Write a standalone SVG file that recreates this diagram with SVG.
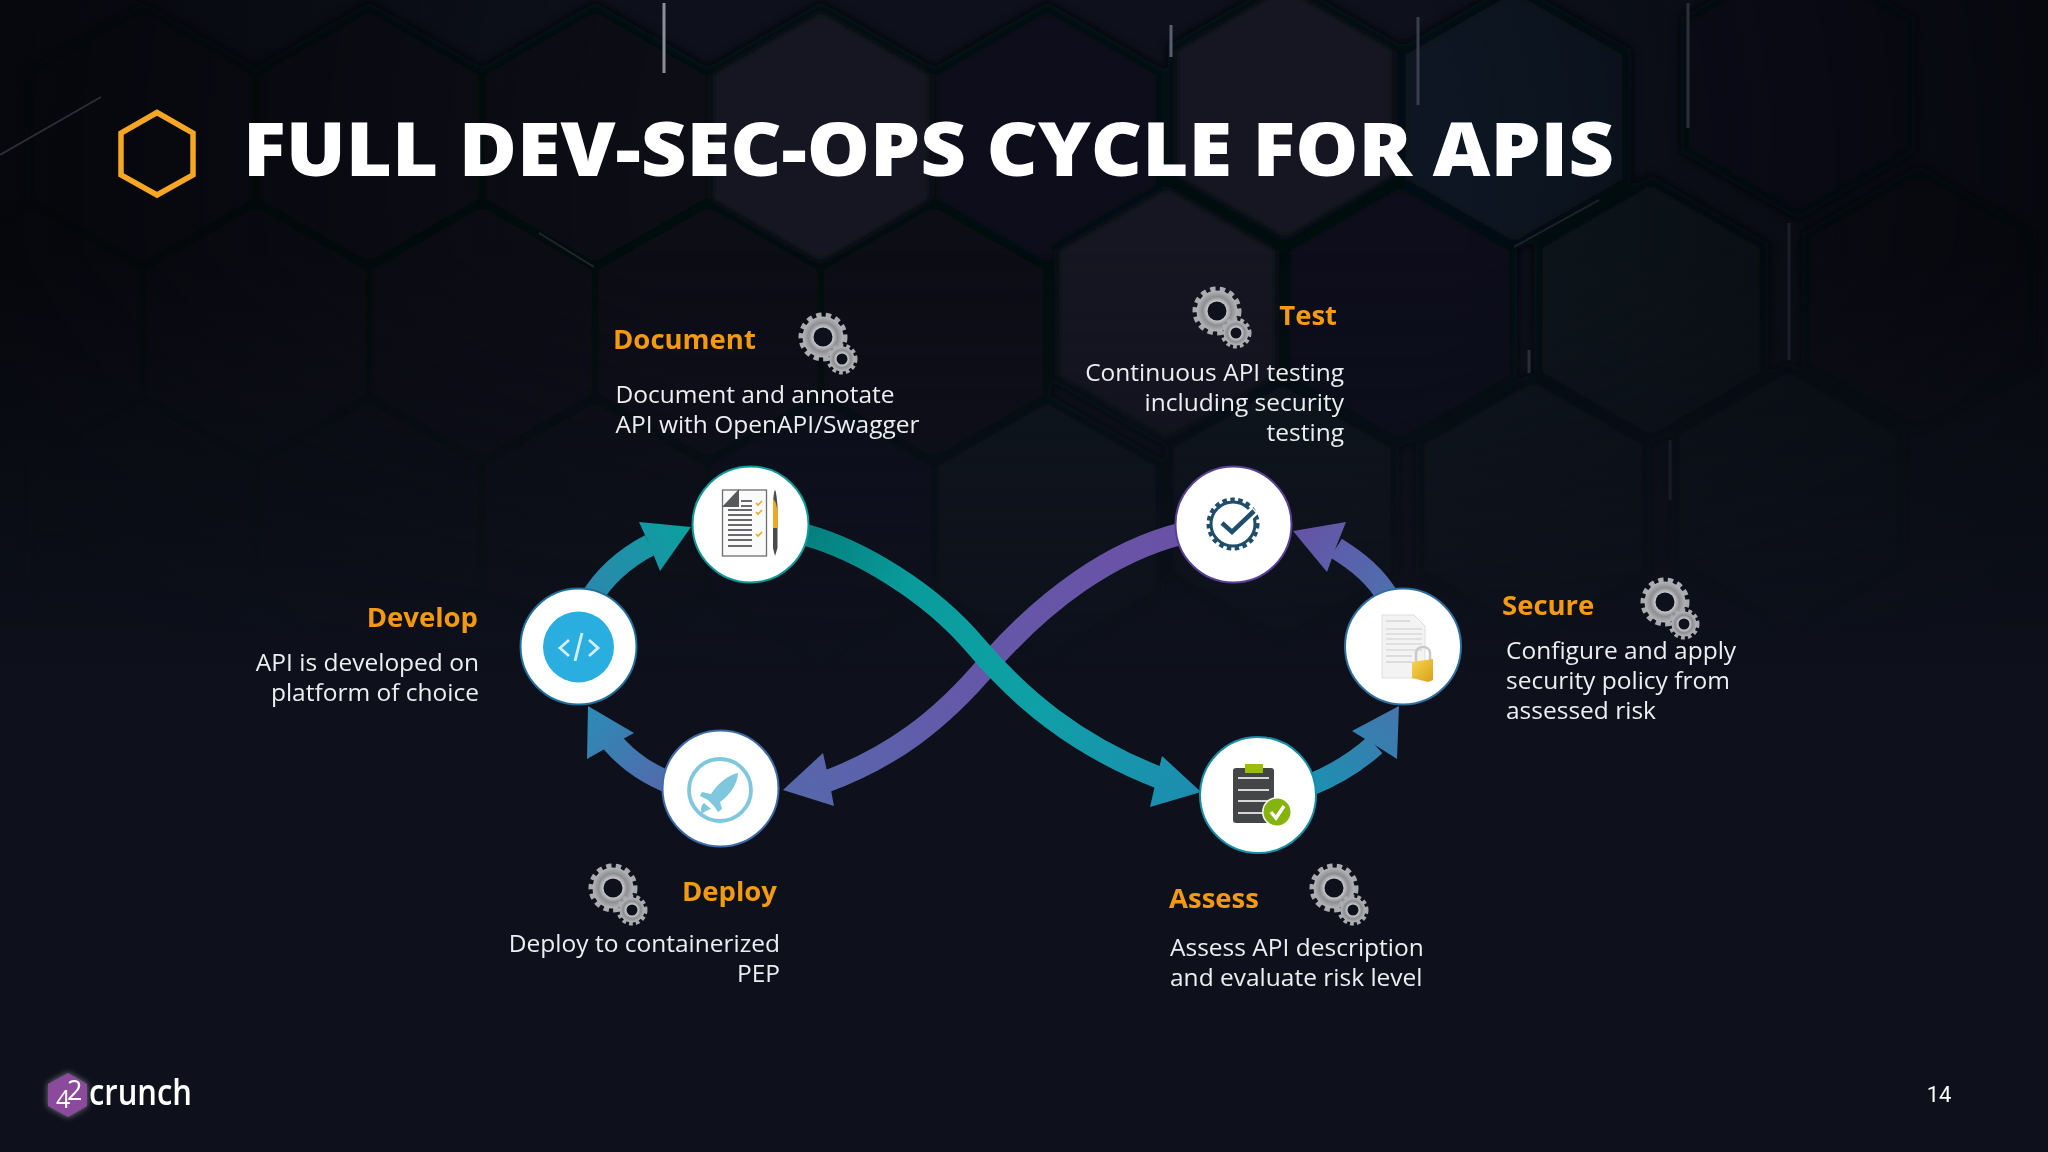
<svg xmlns="http://www.w3.org/2000/svg" xmlns:xlink="http://www.w3.org/1999/xlink" width="2048" height="1152" viewBox="0 0 2048 1152">
<style>
text{font-family:"Open Sans","Noto Sans","Liberation Sans",sans-serif}
.h{font-size:27.5px;font-weight:700;fill:#f39a12}
.b{font-size:24.5px;fill:#eceef0}
.e{text-anchor:end}
.disc{fill:#fff;stroke-width:2}
.hx{stroke:#06070c;stroke-width:9}
.lt{stroke-width:3;fill:none}
.sh{fill:none;stroke-width:22}
</style>
<defs>
<polygon id="hex" points="0,-130 113,-65 113,65 0,130 -113,65 -113,-65"/>
<filter id="soft" x="-5%" y="-5%" width="110%" height="110%"><feGaussianBlur stdDeviation="5"/></filter>
<filter id="glow" x="-30%" y="-30%" width="160%" height="160%"><feGaussianBlur stdDeviation="3"/></filter>
<radialGradient id="edge" gradientUnits="userSpaceOnUse" cx="1050" cy="180" r="1050"><stop offset="0.4" stop-color="#05060a" stop-opacity="0"/><stop offset="1" stop-color="#05060a" stop-opacity="0.8"/></radialGradient>
<linearGradient id="fade" x1="0" y1="0" x2="0" y2="1"><stop offset="0.22" stop-color="#0e111c" stop-opacity="0"/><stop offset="0.6" stop-color="#0e111c"/></linearGradient>
<radialGradient id="gm"><stop offset="0.35" stop-color="#e6e7e9"/><stop offset="0.7" stop-color="#8c8e92"/><stop offset="1" stop-color="#b4b6b9"/></radialGradient>
<linearGradient id="gTeal" gradientUnits="userSpaceOnUse" x1="806" y1="535" x2="1200" y2="792"><stop offset="0" stop-color="#047f7e"/><stop offset="0.25" stop-color="#0a9c9c"/><stop offset="0.6" stop-color="#0fa0a6"/><stop offset="1" stop-color="#1d8db0"/></linearGradient>
<linearGradient id="gPurple" gradientUnits="userSpaceOnUse" x1="1180" y1="534" x2="783" y2="790"><stop offset="0" stop-color="#6a52a6"/><stop offset="0.55" stop-color="#6458a8"/><stop offset="1" stop-color="#5668ac"/></linearGradient>
<linearGradient id="gDev" gradientUnits="userSpaceOnUse" x1="590" y1="600" x2="691" y2="527"><stop offset="0" stop-color="#2d87ad"/><stop offset="1" stop-color="#0aa09f"/></linearGradient>
<linearGradient id="gDep" gradientUnits="userSpaceOnUse" x1="675" y1="785" x2="588" y2="706"><stop offset="0" stop-color="#5468ab"/><stop offset="1" stop-color="#2b8cb6"/></linearGradient>
<linearGradient id="gAss" gradientUnits="userSpaceOnUse" x1="1310" y1="785" x2="1399" y2="706"><stop offset="0" stop-color="#1b91b1"/><stop offset="1" stop-color="#4575ad"/></linearGradient>
<linearGradient id="gSec" gradientUnits="userSpaceOnUse" x1="1390" y1="600" x2="1293" y2="531"><stop offset="0" stop-color="#4d70ae"/><stop offset="1" stop-color="#6752a6"/></linearGradient>
<linearGradient id="gLock" x1="0" y1="0" x2="1" y2="1"><stop offset="0" stop-color="#f7d64a"/><stop offset="1" stop-color="#d99f1c"/></linearGradient>
<g id="gear">
<circle r="21.5" fill="none" stroke="#a9abae" stroke-width="6" stroke-dasharray="5.2 4.2"/>
<circle r="20.5" fill="url(#gm)"/>
<circle r="9.5" fill="#0e111c"/>
<g transform="translate(19,22)">
<circle r="13" fill="none" stroke="#a9abae" stroke-width="5" stroke-dasharray="3.6 2.9"/>
<circle r="12.5" fill="url(#gm)"/>
<circle r="5.5" fill="#0e111c"/>
</g>
</g>
</defs>

<g id="background">
<rect width="2048" height="1152" fill="#0e111c"/>
<g filter="url(#soft)">
<use href="#hex" x="143" y="137" class="hx" fill="#0b0d14"/>
<use href="#hex" x="369" y="137" class="hx" fill="#0b0d15"/>
<use href="#hex" x="595" y="137" class="hx" fill="#0c0e16"/>
<use href="#hex" x="821" y="137" class="hx" fill="#141723"/>
<use href="#hex" x="1047" y="137" class="hx" fill="#0e111a"/>
<use href="#hex" x="1285" y="113" class="hx" fill="#121622"/>
<use href="#hex" x="1514" y="117" class="hx" fill="#111420"/>
<use href="#hex" x="1798" y="85" class="hx" fill="#0e111b"/>
<use href="#hex" x="30" y="332" class="hx" fill="#0b0d14"/>
<use href="#hex" x="256" y="332" class="hx" fill="#0c0e16"/>
<use href="#hex" x="482" y="332" class="hx" fill="#0b0d15"/>
<use href="#hex" x="708" y="332" class="hx" fill="#0c0e16"/>
<use href="#hex" x="934" y="332" class="hx" fill="#0d0f18"/>
<use href="#hex" x="1167" y="313" class="hx" fill="#121622"/>
<use href="#hex" x="1400" y="313" class="hx" fill="#0e111a"/>
<use href="#hex" x="1651" y="310" class="hx" fill="#10131d"/>
<use href="#hex" x="1919" y="300" class="hx" fill="#0d1019"/>
<use href="#hex" x="143" y="528" class="hx" fill="#0c0e17"/>
<use href="#hex" x="369" y="528" class="hx" fill="#0d0f18"/>
<use href="#hex" x="595" y="528" class="hx" fill="#0c0e17"/>
<use href="#hex" x="821" y="528" class="hx" fill="#0e101a"/>
<use href="#hex" x="1047" y="528" class="hx" fill="#0f121c"/>
<use href="#hex" x="1282" y="510" class="hx" fill="#0f121c"/>
<use href="#hex" x="1533" y="507" class="hx" fill="#10131d"/>
<use href="#hex" x="1788" y="497" class="hx" fill="#0f121c"/>
</g>
<rect width="2048" height="1152" fill="url(#edge)"/>
<rect width="2048" height="1152" fill="url(#fade)"/>
<g>
<line class="lt" x1="664" y1="3" x2="664" y2="73" stroke="#8d9099"/>
<line class="lt" x1="1171" y1="25" x2="1171" y2="57" stroke="#5a5e70"/>
<line class="lt" x1="1418" y1="17" x2="1418" y2="105" stroke="#3a3d4c"/>
<line class="lt" x1="1688" y1="3" x2="1688" y2="128" stroke="#2c2f3a"/>
<line class="lt" x1="1789" y1="223" x2="1789" y2="360" stroke="#1c1f29"/>
<line class="lt" x1="1529" y1="350" x2="1529" y2="373" stroke="#2b2e3a"/>
<line class="lt" x1="1670" y1="440" x2="1670" y2="500" stroke="#191c26"/>
<line x1="0" y1="155" x2="101" y2="97" stroke="#2c2e35" stroke-width="2"/>
<line x1="539" y1="233" x2="594" y2="267" stroke="#23252c" stroke-width="2"/>
<line x1="1514" y1="247" x2="1599" y2="200" stroke="#1e2029" stroke-width="2"/>
</g>
</g>

<g id="title">
<polygon points="157,112.500 193,133 193,175 157,195 121,175 121,133" fill="none" stroke="#f5a623" stroke-width="5.500"/>
<text x="243" y="176" font-size="74" font-weight="800" fill="#fff" textLength="1371" lengthAdjust="spacingAndGlyphs">FULL DEV-SEC-OPS CYCLE FOR APIS</text>
</g>

<g id="connectors">
<g id="c-test-deploy">
<path class="sh" stroke="url(#gPurple)" d="M1180,534 C1110,552 1045,600 990,662 C940,722 890,758 825,782"/>
<polygon fill="url(#gPurple)" points="783,790 823,753 829,780 834,806"/>
</g>
<g id="c-doc-assess">
<path class="sh" stroke="url(#gTeal)" d="M806,535 C860,550 930,592 975,645 C1020,698 1075,745 1160,778"/>
<polygon fill="url(#gTeal)" points="1201,792 1162,756 1156,781 1150,807"/>
</g>
<g id="c-dev-doc">
<path class="sh" stroke="url(#gDev)" d="M590,600 C605,575 625,558 650,545"/>
<polygon fill="url(#gDev)" points="691,527 639,522 650,546 660,571"/>
</g>
<g id="c-dep-dev">
<path class="sh" stroke="url(#gDep)" d="M675,785 C650,775 630,763 612,742"/>
<polygon fill="url(#gDep)" points="588,706 634,733 610,746 587,759"/>
</g>
<g id="c-ass-sec">
<path class="sh" stroke="url(#gAss)" d="M1310,785 C1335,775 1355,763 1375,745"/>
<polygon fill="url(#gAss)" points="1399,706 1352,731 1375,745 1397,759"/>
</g>
<g id="c-sec-test">
<path class="sh" stroke="url(#gSec)" d="M1390,600 C1375,575 1358,562 1336,548"/>
<polygon fill="url(#gSec)" points="1293,531 1346,522 1336,547 1327,572"/>
</g>
</g>

<g id="node-document">
<circle class="disc" cx="750.500" cy="524.500" r="58" stroke="#0c9a96"/>
<rect x="722.500" y="490" width="44" height="66" fill="#fafafa" stroke="#6b6d70" stroke-width="1.300"/>
<polygon points="722,507 739,489 739,507" fill="#58595b"/>
<g stroke="#58595b" stroke-width="1.800">
<line x1="741" y1="501" x2="752" y2="501"/><line x1="741" y1="506" x2="752" y2="506"/>
<line x1="728" y1="510" x2="752" y2="510"/><line x1="728" y1="515" x2="752" y2="515"/>
<line x1="728" y1="520" x2="752" y2="520"/><line x1="728" y1="525" x2="752" y2="525"/>
<line x1="728" y1="530" x2="752" y2="530"/><line x1="728" y1="535" x2="752" y2="535"/>
<line x1="728" y1="540" x2="752" y2="540"/><line x1="728" y1="546" x2="752" y2="546"/>
</g>
<g stroke="#eba91f" stroke-width="1.600" fill="none">
<polyline points="756,503 758,505 762,501"/><polyline points="756,512 758,514 762,510"/><polyline points="756,534 758,536 762,532"/>
</g>
<path d="M773,506 C773,500 774,490 775,490 C776,490 777,500 777.500,506 L777.500,548 L775,556 L773,548Z" fill="#4a4b4d"/>
<path d="M773,499 C778,503 778,515 777.500,528 L773,528Z" fill="#eda81d"/>
</g>

<g id="node-develop">
<circle class="disc" cx="578.500" cy="646.500" r="58" stroke="#1f6f9a"/>
<circle cx="578.500" cy="647" r="35.500" fill="#2aaee0"/>
<g fill="none" stroke="#d4eef8" stroke-width="2.800">
<polyline points="569,640 560,648 569,656"/>
<polyline points="589,640 598,648 589,656"/>
<line x1="582" y1="633" x2="575" y2="661"/>
</g>
</g>

<g id="node-deploy">
<circle class="disc" cx="720.500" cy="788.500" r="58" stroke="#3f6aa8"/>
<circle cx="720" cy="790" r="31" fill="none" stroke="#7fc7dc" stroke-width="3.800"/>
<path d="M738,773 C730,774 718,783 711,794 L702,792 L700,796 L708,800 L714,806 L718,812 L722,809 L720,802 C730,795 738,783 738,773Z" fill="#7fc7dc"/>
<path d="M704,803 C700,806 701,811 702,814 C705,811 708,810 711,809Z" fill="#7fc7dc"/>
</g>

<g id="node-test">
<circle class="disc" cx="1233.500" cy="524.500" r="58" stroke="#5a3f96"/>
<circle cx="1233" cy="524" r="22" fill="none" stroke="#1f4e6b" stroke-width="3"/>
<circle cx="1233" cy="524" r="24.500" fill="none" stroke="#1f4e6b" stroke-width="4" stroke-dasharray="4.500 3.500"/>
<polyline points="1222,523 1232,532 1255,510" fill="none" stroke="#fff" stroke-width="10"/>
<polyline points="1222,523 1232,532 1254,511" fill="none" stroke="#1f4e6b" stroke-width="4.500"/>
</g>

<g id="node-secure">
<circle class="disc" cx="1403" cy="646.500" r="58" stroke="#2f6f9f"/>
<path d="M1382,615 L1414,615 L1425,626 L1425,678 L1382,678Z" fill="#f3f3f3" stroke="#dedede" stroke-width="1"/>
<g stroke="#cdcdcd" stroke-width="1.200">
<line x1="1386" y1="621" x2="1410" y2="621"/><line x1="1386" y1="629" x2="1422" y2="629"/>
<line x1="1386" y1="634" x2="1422" y2="634"/><line x1="1386" y1="639" x2="1422" y2="639"/>
<line x1="1386" y1="644" x2="1422" y2="644"/><line x1="1386" y1="650" x2="1422" y2="650"/>
<line x1="1386" y1="656" x2="1412" y2="656"/><line x1="1386" y1="662" x2="1412" y2="662"/>
</g>
<path d="M1416,662 L1416,653 C1416,645 1430,645 1430,653 L1430,662" fill="none" stroke="#c9c9c9" stroke-width="2.500"/>
<path d="M1412,662 L1433,659 L1433,680 L1428,682 L1412,678Z" fill="url(#gLock)"/>
</g>

<g id="node-assess">
<circle class="disc" cx="1258" cy="795" r="58" stroke="#158ea6"/>
<rect x="1233" y="768" width="41" height="55" rx="3" fill="#444546"/>
<rect x="1245" y="764" width="18" height="9" fill="#9cbc0a"/>
<g stroke="#e8e8e8" stroke-width="1.800">
<line x1="1238" y1="778" x2="1269" y2="778"/><line x1="1238" y1="790" x2="1269" y2="790"/>
<line x1="1238" y1="801" x2="1269" y2="801"/><line x1="1238" y1="813" x2="1269" y2="813"/>
</g>
<circle cx="1277" cy="812" r="15" fill="#fff"/>
<circle cx="1277" cy="812" r="13.500" fill="#86b40e"/>
<polyline points="1271,812 1276,818 1284,806" fill="none" stroke="#fff" stroke-width="3.500"/>
</g>

<g id="label-document">
<use href="#gear" x="823" y="337"/>
<text class="h" x="613" y="348.500">Document</text>
<text class="b" x="615.500" y="403">Document and annotate</text>
<text class="b" x="615.500" y="433">API with OpenAPI/Swagger</text>
</g>
<g id="label-test">
<use href="#gear" x="1217" y="311"/>
<text class="h e" x="1337" y="325">Test</text>
<text class="b e" x="1344" y="381">Continuous API testing</text>
<text class="b e" x="1344" y="411">including security</text>
<text class="b e" x="1344" y="441">testing</text>
</g>
<g id="label-develop">
<text class="h e" x="478" y="627">Develop</text>
<text class="b e" x="479" y="671">API is developed on</text>
<text class="b e" x="479" y="701">platform of choice</text>
</g>
<g id="label-secure">
<use href="#gear" x="1665" y="602"/>
<text class="h" x="1502" y="615">Secure</text>
<text class="b" x="1506" y="659">Configure and apply</text>
<text class="b" x="1506" y="689">security policy from</text>
<text class="b" x="1506" y="719">assessed risk</text>
</g>
<g id="label-deploy">
<use href="#gear" x="613" y="888"/>
<text class="h e" x="777" y="901">Deploy</text>
<text class="b e" x="780" y="952">Deploy to containerized</text>
<text class="b e" x="780" y="982">PEP</text>
</g>
<g id="label-assess">
<use href="#gear" x="1334" y="888"/>
<text class="h" x="1169" y="907.500">Assess</text>
<text class="b" x="1170" y="956">Assess API description</text>
<text class="b" x="1170" y="986">and evaluate risk level</text>
</g>

<g id="logo">
<polygon points="68,1073 87,1084 87,1106 68,1117 48,1106 48,1084" fill="#fff" opacity="0.45" filter="url(#glow)"/>
<polygon points="68,1073 87,1084 87,1106 68,1117 48,1106 48,1084" fill="#8b4a9c"/>
<text x="56" y="1108" font-size="25" fill="#fff">4</text>
<text x="67" y="1100" font-size="27" fill="#fff">2</text>
<text x="89" y="1105" font-size="36" font-weight="600" fill="#fff" textLength="103" lengthAdjust="spacingAndGlyphs">crunch</text>
</g>
<text id="page" x="1939" y="1102" font-size="22" fill="#fff" text-anchor="middle" style="font-family:'Roboto',sans-serif">14</text>
</svg>
